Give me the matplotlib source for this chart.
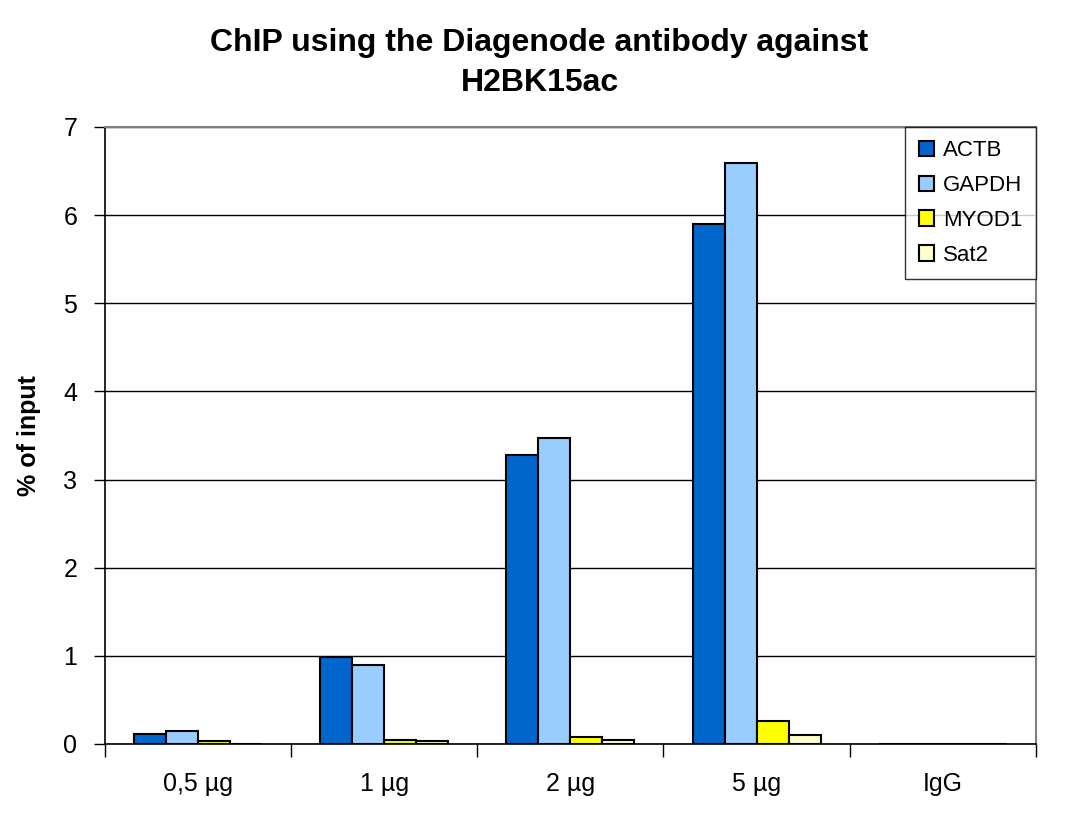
import matplotlib
matplotlib.use("Agg")
import matplotlib.pyplot as plt
import numpy as np

plt.rcParams['font.family'] = ['Liberation Sans', 'DejaVu Sans']

categories = ["0,5 µg", "1 µg", "2 µg", "5 µg", "IgG"]
actb = [0.11, 0.99, 3.28, 5.90, 0.0]
gapdh = [0.15, 0.90, 3.47, 6.59, 0.0]
myod1 = [0.03, 0.05, 0.08, 0.26, 0.0]
sat2 = [0.00, 0.03, 0.05, 0.10, 0.0]

series = [("ACTB", actb, "#0066CC"), ("GAPDH", gapdh, "#99CCFF"),
          ("MYOD1", myod1, "#FFFF00"), ("Sat2", sat2, "#FFFFCC")]

fig = plt.figure(figsize=(10.79, 8.14), dpi=100)
ax = fig.add_axes([0.0973, 0.086, 0.8627, 0.758])

x = np.arange(len(categories))
w = 0.172
for i, (name, vals, col) in enumerate(series):
    ax.bar(x + (i - 1.5) * w, vals, w, color=col, edgecolor="black",
           linewidth=1.5, label=name, zorder=3)

ax.set_xlim(-0.5, len(categories) - 0.5)
ax.set_ylim(0, 7)
ax.set_yticks(range(8))
ax.yaxis.grid(True, color="black", linewidth=1, zorder=0)
ax.set_xticks(x)
ax.set_xticklabels(categories, fontsize=18)
ax.set_xticks(np.arange(-0.5, len(categories)), minor=True)
ax.tick_params(axis="x", which="major", length=0, pad=20)
ax.tick_params(axis="x", which="minor", length=9, width=1, direction="out")
ax.tick_params(axis="y", labelsize=18, length=8, width=1, direction="out", pad=12)

for s in ["left", "bottom"]:
    ax.spines[s].set_color("black")
    ax.spines[s].set_linewidth(1.2)
for s in ["top", "right"]:
    ax.spines[s].set_color("#808080")
    ax.spines[s].set_linewidth(1.5)

ax.set_ylabel("% of input", fontsize=18, fontweight="bold", labelpad=16)
fig.text(0.5, 0.923, "ChIP using the Diagenode antibody against\nH2BK15ac",
         ha="center", va="center", fontsize=23, fontweight="bold", linespacing=1.45)

leg = ax.legend(loc="upper right", bbox_to_anchor=(1.0, 1.0), fontsize=16,
                frameon=True, fancybox=False, edgecolor="black",
                handlelength=0.7, handleheight=0.7, handletextpad=0.4,
                labelspacing=0.62, borderpad=0.6, borderaxespad=0)
leg.get_frame().set_linewidth(1)

fig.savefig("out.png", dpi=100)
